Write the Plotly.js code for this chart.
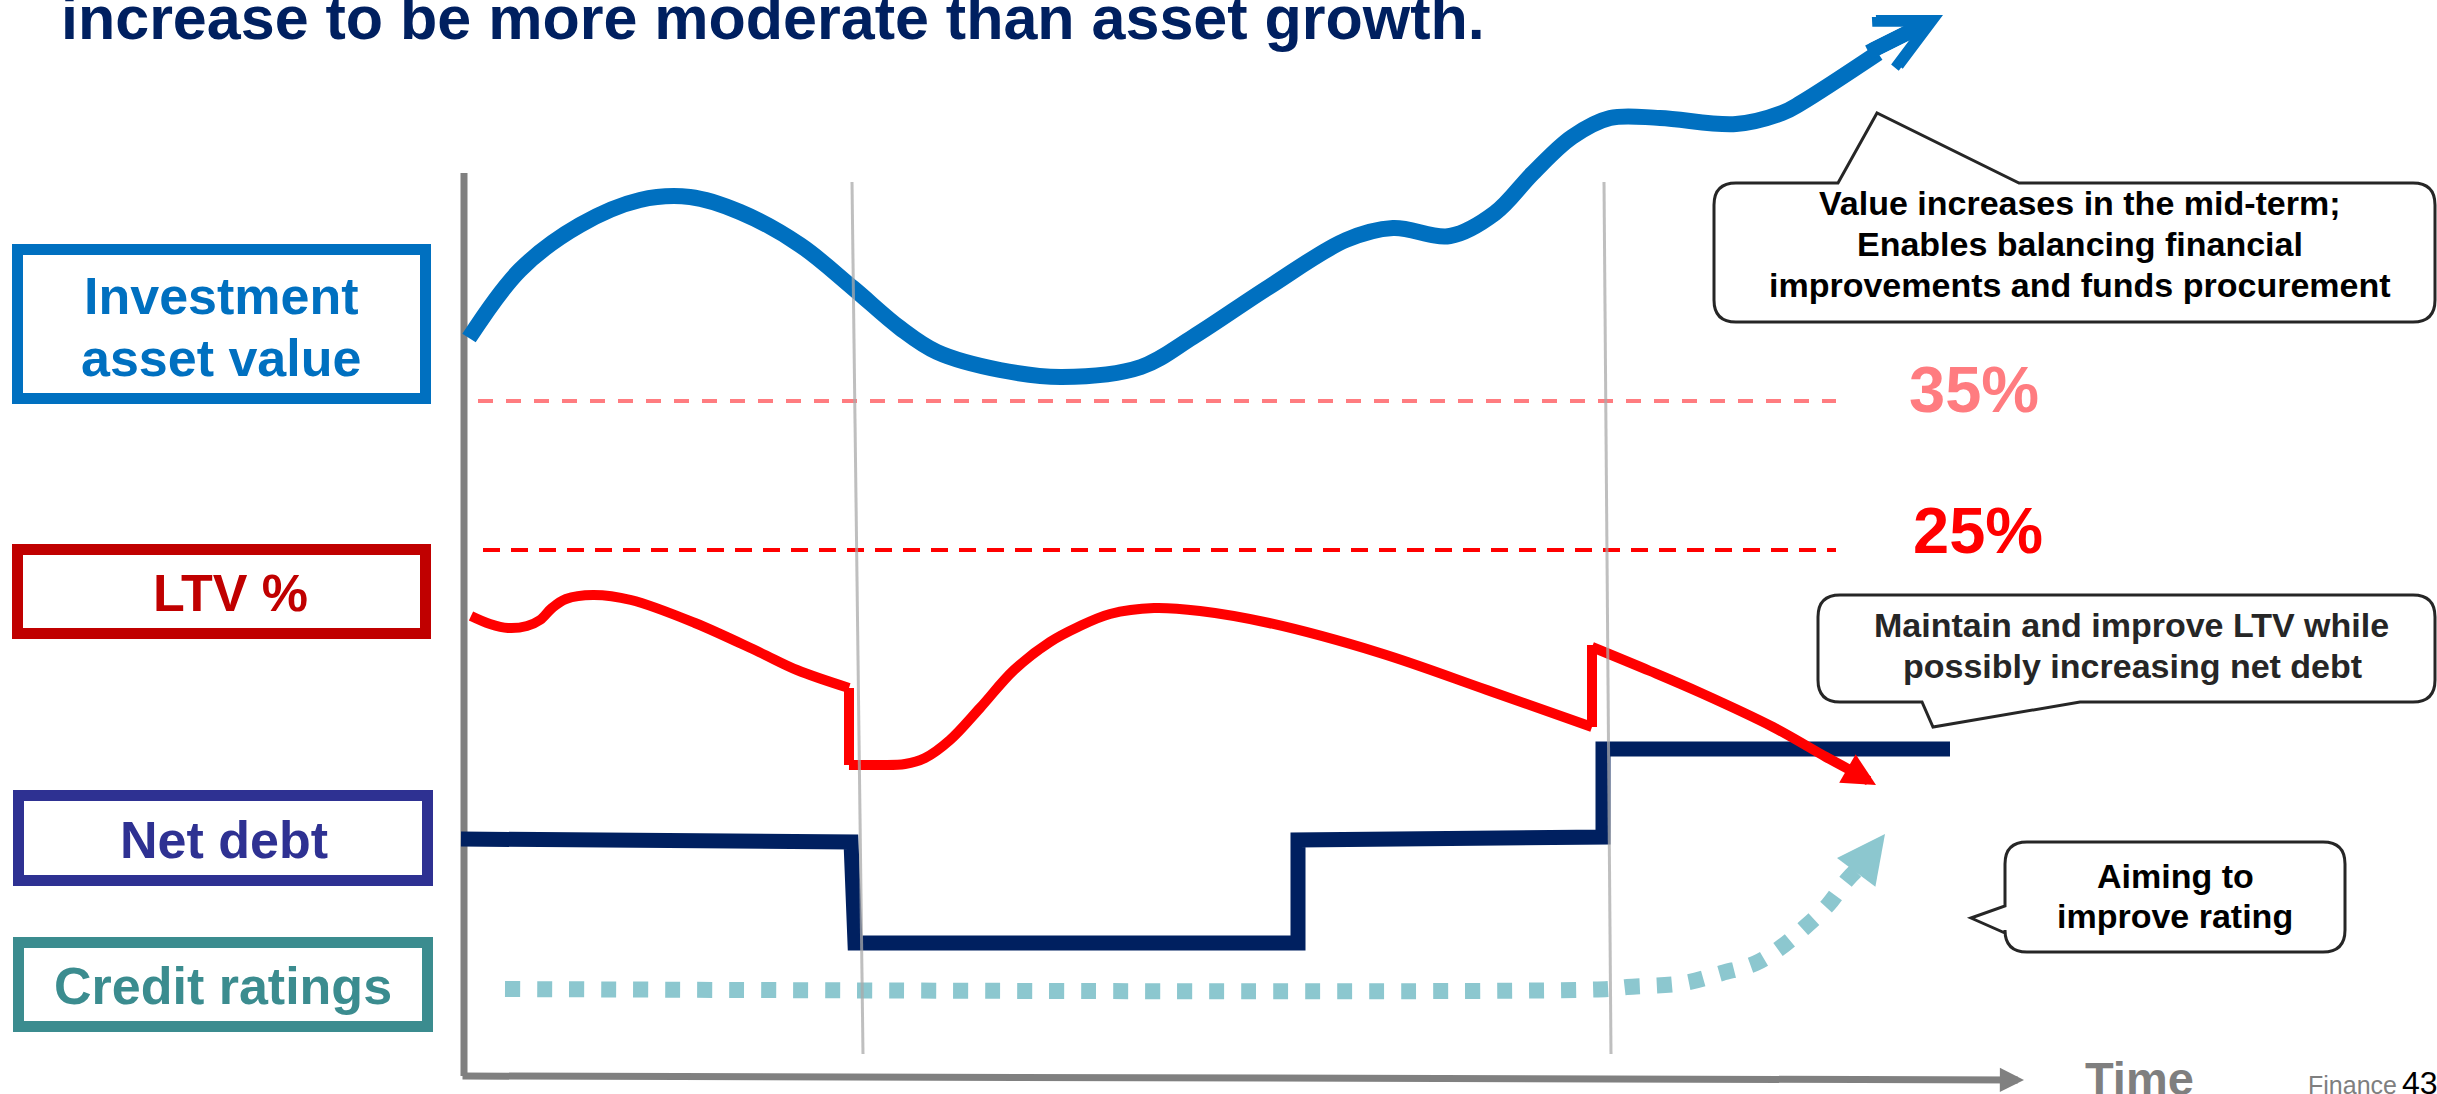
<!DOCTYPE html>
<html><head><meta charset="utf-8">
<script src="https://cdn.plot.ly/plotly-3.0.1.min.js"></script>
<style>html,body{margin:0;padding:0;background:#fff;overflow:hidden}#chart{width:2437px;height:1094px}</style>
</head><body><div id="chart"></div><script>
// ---------- data (time on x, level on y; y grows downward as in the picture) ----------
const assetTime  = [469, 520, 580, 640, 690, 740, 800, 853, 900, 937, 1000, 1062, 1141, 1193, 1269, 1346, 1393, 1450, 1495, 1533, 1572, 1610, 1660, 1736, 1782, 1801, 1878];
const assetLevel = [338, 270, 225, 200, 197, 212, 245, 288, 328, 352, 370, 377, 367, 337, 287, 240, 228, 236, 213, 173, 137, 118, 118, 124, 113, 103, 53];

const ltvTime1  = [471, 490, 508, 527, 540, 552, 566, 593, 631, 695, 759, 797, 849];
const ltvLevel1 = [616, 624, 628, 626, 620, 608, 599, 595, 600, 623, 652, 670, 688];
const ltvDropTime  = [849, 849];
const ltvDropLevel = [688, 765];
const ltvTime2  = [849, 880, 905, 925, 950, 980, 1014, 1050, 1078, 1110, 1154, 1200, 1269, 1380, 1487, 1592];
const ltvLevel2 = [765, 765, 764, 758, 740, 708, 670, 642, 627, 614, 608, 611, 623, 653, 690, 727];
const ltvJumpTime  = [1592, 1592];
const ltvJumpLevel = [727, 645];
const ltvTime3  = [1592, 1650, 1701, 1773, 1826, 1852];
const ltvLevel3 = [647, 671, 693, 727, 757, 771];

const debtTime  = [461, 851, 855, 1298, 1298, 1603, 1603, 1950];
const debtLevel = [839, 842, 943, 943, 840, 837, 749, 749];

const ratingTime  = [505, 1609, 1627, 1684, 1722, 1756, 1780, 1804, 1828, 1847, 1861];
const ratingLevel = [989, 989, 987, 983, 973, 963, 948, 928, 905, 880, 866];

const thresholdLabels = ['35%', '25%'];
const thresholdTime   = [478, 1836];
const thresholdLevel  = [401, 550];

const seriesLabels = ['Investment', 'asset value', 'LTV %', 'Net debt', 'Credit ratings'];
const titleText = 'increase to be more moderate than asset growth.';
const callout1 = ['Value increases in the mid-term;', 'Enables balancing financial', 'improvements and funds procurement'];
const callout2 = ['Maintain and improve LTV while', 'possibly increasing net debt'];
const callout3 = ['Aiming to', 'improve rating'];

// ---------- styles ----------
const FONT = 'Liberation Sans, Arial, sans-serif';
const BLUE = '#0070C0', RED = '#FF0000', NAVY = '#002060', TEAL = '#8CC7CF';

function line(x, y, color, width, shape, dash) {
  return {type: 'scatter', mode: 'lines', x, y, hoverinfo: 'skip',
    line: {color, width, shape: shape || 'linear', smoothing: 1, dash: dash || 'solid'}};
}

const traces = [
  line([thresholdTime[0], thresholdTime[1]], [thresholdLevel[0], thresholdLevel[0]], '#FF7C80', 4, 'linear', '15px,13px'),
  line([thresholdTime[0] + 5, thresholdTime[1]], [thresholdLevel[1], thresholdLevel[1]], '#FF0000', 4, 'linear', '17px,11px'),
  line(ratingTime, ratingLevel, TEAL, 16, 'spline', '15px,17px'),
  line(debtTime, debtLevel, NAVY, 15, 'linear'),
  line(ltvTime1, ltvLevel1, RED, 10, 'spline'),
  line(ltvDropTime, ltvDropLevel, RED, 10, 'linear'),
  line(ltvTime2, ltvLevel2, RED, 10, 'spline'),
  line(ltvJumpTime, ltvJumpLevel, RED, 10, 'linear'),
  line(ltvTime3, ltvLevel3, RED, 10, 'spline'),
  line(assetTime, assetLevel, BLUE, 16, 'spline')
];

function txt(text, x, y, size, color, extra) {
  return Object.assign({text, x, y, xref: 'x', yref: 'y', showarrow: false,
    xanchor: 'center', yanchor: 'middle',
    font: {family: FONT, size, color, weight: 700}}, extra || {});
}
function arrow(x, y, ax, ay, color, width, head, size) {
  return {x, y, ax, ay, xref: 'x', yref: 'y', axref: 'x', ayref: 'y', text: '',
    showarrow: true, arrowhead: head, arrowwidth: width, arrowsize: size, arrowcolor: color, standoff: 0};
}

const annotations = [
  txt(titleText, 59, 18, 61, NAVY, {xanchor: 'left'}),
  txt(seriesLabels[0], 221, 296, 52, BLUE),
  txt(seriesLabels[1], 221, 358, 52, BLUE),
  txt(seriesLabels[2], 230, 593, 52, '#C00000'),
  txt(seriesLabels[3], 224, 840, 52, '#2E3192'),
  txt(seriesLabels[4], 223, 986, 52, '#3B8C8F'),
  txt(thresholdLabels[0], 1974, 389, 65, '#FF7C80'),
  txt(thresholdLabels[1], 1978, 530, 65, '#FF0000'),
  txt(callout1[0], 2080, 203, 34, '#000000'),
  txt(callout1[1], 2080, 244, 34, '#000000'),
  txt(callout1[2], 2080, 285, 34, '#000000'),
  txt(callout2[0], 2131, 625, 34, '#262626'),
  txt(callout2[1], 2132, 666, 34, '#262626'),
  txt(callout3[0], 2175, 876, 34, '#000000'),
  txt(callout3[1], 2175, 916, 34, '#000000'),
  txt('Time', 2139, 1078, 47, '#7F7F7F'),
  {text: 'Finance', x: 2306, y: 1085, xref: 'x', yref: 'y', showarrow: false, xanchor: 'left', yanchor: 'middle',
   font: {family: FONT, size: 25, color: '#7F7F7F'}},
  {text: '43', x: 2400, y: 1083, xref: 'x', yref: 'y', showarrow: false, xanchor: 'left', yanchor: 'middle',
   font: {family: FONT, size: 32, color: '#000000'}},
  // arrow heads
  arrow(1943, 15, 1871, 51, BLUE, 15, 5, 0.667),
  arrow(1939, 17, 1867, 53, BLUE, 15, 5, 0.667),
  arrow(1876, 785, 1850, 770, RED, 10, 2, 0.66),
  arrow(1885, 834, 1861, 866, TEAL, 6, 2, 1.6),
  // time axis
  arrow(2024, 1080, 461, 1076, '#808080', 7, 2, 0.69)
];

function bubble(x0, y0, x1, y1, r, side, b0, b1, tx, ty) {
  let p = `M${x0 + r},${y0}`;
  if (side === 'top') p += ` L${b0},${y0} L${tx},${ty} L${b1},${y0}`;
  p += ` L${x1 - r},${y0} Q${x1},${y0} ${x1},${y0 + r} L${x1},${y1 - r} Q${x1},${y1} ${x1 - r},${y1}`;
  if (side === 'bottom') p += ` L${b1},${y1} L${tx},${ty} L${b0},${y1}`;
  p += ` L${x0 + r},${y1} Q${x0},${y1} ${x0},${y1 - r}`;
  if (side === 'left') p += ` L${x0},${b1} L${tx},${ty} L${x0},${b0}`;
  p += ` L${x0},${y0 + r} Q${x0},${y0} ${x0 + r},${y0} Z`;
  return {type: 'path', path: p, xref: 'x', yref: 'y', line: {color: '#262626', width: 3}, fillcolor: '#FFFFFF', layer: 'above'};
}
function box(x0, y0, x1, y1, color) {
  return {type: 'rect', x0, y0, x1, y1, xref: 'x', yref: 'y', line: {color, width: 11}, fillcolor: 'rgba(0,0,0,0)', layer: 'below'};
}
function seg(x0, y0, x1, y1, color, width, layer) {
  return {type: 'line', x0, y0, x1, y1, xref: 'x', yref: 'y', line: {color, width}, layer: layer || 'below'};
}

const shapes = [
  box(17.5, 249.5, 425.5, 398.5, BLUE),
  box(17.5, 549.5, 425.5, 633.5, '#C00000'),
  box(18.5, 795.5, 427.5, 880.5, '#2E3192'),
  box(18.5, 942.5, 427.5, 1026.5, '#3B8C8F'),
  seg(464, 173, 464, 1076, '#808080', 7),
  seg(852, 182, 863, 1054, 'rgba(170,170,170,0.75)', 3, 'above'),
  seg(1604, 182, 1611, 1054, 'rgba(170,170,170,0.75)', 3, 'above'),
  bubble(1714, 183, 2435, 322, 22, 'top', 1838, 2019, 1877, 113),
  bubble(1818, 595, 2435, 702, 22, 'bottom', 1922, 2080, 1933, 727),
  bubble(2005, 842, 2345, 952, 22, 'left', 906, 933, 1971, 918)
];

const layout = {
  width: 2437, height: 1094, margin: {l: 0, r: 0, t: 0, b: 0, pad: 0},
  paper_bgcolor: '#FFFFFF', plot_bgcolor: '#FFFFFF', showlegend: false,
  xaxis: {range: [0, 2437], visible: false, fixedrange: true},
  yaxis: {range: [1094, 0], visible: false, fixedrange: true},
  annotations, shapes
};
Plotly.newPlot('chart', traces, layout, {staticPlot: true, displayModeBar: false});
</script></body></html>
